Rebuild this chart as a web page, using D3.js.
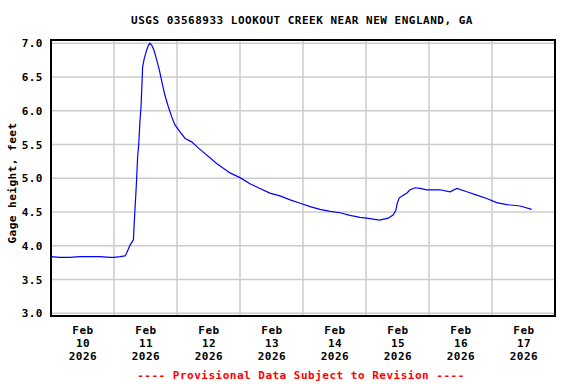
<!DOCTYPE html>
<html>
<head>
<meta charset="utf-8">
<title>USGS 03568933 Lookout Creek</title>
<script src="https://cdn.jsdelivr.net/npm/d3@7"></script>
<style>
  body { margin: 0; background: #fff; }
  text { font-family: "DejaVu Sans Mono", "Liberation Mono", monospace; font-weight: bold; font-size: 11px; letter-spacing: 0.5px; }
</style>
</head>
<body>
<svg id="chart"></svg>
<script>
// hours since Feb 10 2026 00:00 and gage height in feet
var hours = [0, 3.4, 7.2, 11, 14.9, 18.7, 22.5, 24, 26.3, 28.2, 28.8, 30.1, 31.4, 31.7, 32.3, 32.6, 33, 33.4,
  33.9, 34.3, 34.6, 34.9, 35.5, 36.2, 37.1, 37.7, 38.4, 39.2, 40.3, 41.3, 42.4, 43.4, 44.7, 46, 47.2,
  49.1, 51.1, 53.6, 56.1, 63.1, 68.2, 72, 75.8, 79.6, 83.4, 87.2, 91.1, 94.9, 98.7, 102.5, 106.3,
  110.1, 113.9, 117.7, 120.3, 125.1, 128.5, 130.4, 131.4, 131.9, 132.7, 134.2, 135.5, 136.8, 138.7,
  140.6, 143.1, 148.2, 152, 154.6, 158.4, 162.2, 166, 169.8, 173.6, 178.7, 183.1];
var height_ft = [3.84, 3.83, 3.83, 3.84, 3.84, 3.84, 3.83, 3.83, 3.84, 3.85, 3.89, 4.01, 4.09, 4.34, 4.75, 4.97, 5.32, 5.49,
  5.86, 6.06, 6.35, 6.65, 6.77, 6.87, 6.97, 7.00, 6.97, 6.90, 6.75, 6.60, 6.40, 6.23, 6.06, 5.91, 5.79,
  5.69, 5.59, 5.54, 5.45, 5.22, 5.08, 5.01, 4.92, 4.85, 4.78, 4.74, 4.68, 4.63, 4.58, 4.54, 4.51,
  4.49, 4.45, 4.42, 4.41, 4.38, 4.41, 4.46, 4.53, 4.63, 4.71, 4.75, 4.78, 4.83, 4.86,
  4.85, 4.83, 4.83, 4.80, 4.85, 4.80, 4.75, 4.70, 4.64, 4.61, 4.59, 4.54];
var yTicks = [3.0, 3.5, 4.0, 4.5, 5.0, 5.5, 6.0, 6.5, 7.0];
var dayLabels = ['10', '11', '12', '13', '14', '15', '16', '17'];
var monthLabel = 'Feb', yearLabel = '2026';

var W = 576, H = 384;
var pL = 51, pR = 555, pT = 40, pB = 316;
var start = Date.UTC(2026, 1, 10);

var svg = d3.select('#chart').attr('width', W).attr('height', H);

var x = d3.scaleUtc()
  .domain([new Date(start), new Date(Date.UTC(2026, 1, 18))])
  .range([pL, pR]);
var y = d3.scaleLinear().domain([3, 7]).range([313.3, 43.3]);

var data = hours.map((h, i) => [new Date(start + h * 3600e3), height_ft[i]]);

// grid
svg.append('g').selectAll('line').data(yTicks).enter().append('line')
  .attr('x1', pL).attr('x2', pR)
  .attr('y1', d => y(d)).attr('y2', d => y(d))
  .attr('stroke', '#cccccc').attr('stroke-width', 1.5);
svg.append('g').selectAll('line').data(x.ticks(d3.utcDay.every(1))).enter().append('line')
  .attr('x1', d => x(d)).attr('x2', d => x(d))
  .attr('y1', pT).attr('y2', pB)
  .attr('stroke', '#cccccc').attr('stroke-width', 1.5);

// line
svg.append('path').datum(data)
  .attr('fill', 'none').attr('stroke', '#0000ff').attr('stroke-width', 1.2)
  .attr('d', d3.line().x(d => x(d[0])).y(d => y(d[1])));

// frame
svg.append('rect').attr('x', pL).attr('y', pT)
  .attr('width', pR - pL).attr('height', pB - pT)
  .attr('fill', 'none').attr('stroke', '#000').attr('stroke-width', 2);

// y axis
var yAxis = d3.axisLeft(y).tickValues(yTicks).tickFormat(d3.format('.1f')).tickSize(0).tickPadding(8);
var gy = svg.append('g').attr('transform', 'translate(' + pL + ',0)').call(yAxis);
gy.select('.domain').remove();
gy.selectAll('text').attr('font-family', null).attr('font-size', null).attr('fill', '#000');

// x axis labels (centred at noon)
var noons = dayLabels.map((d, i) => new Date(start + (i + 0.5) * 86400e3));
var xAxis = d3.axisBottom(x).tickValues(noons).tickSize(0).tickFormat('');
var gx = svg.append('g').attr('transform', 'translate(0,' + pB + ')').call(xAxis);
gx.select('.domain').remove();
gx.selectAll('.tick').each(function (d, i) {
  var t = d3.select(this).append('text').attr('text-anchor', 'middle').attr('fill', '#000');
  t.append('tspan').attr('x', 0).attr('y', 18).text(monthLabel);
  t.append('tspan').attr('x', 0).attr('y', 31).text(dayLabels[i]);
  t.append('tspan').attr('x', 0).attr('y', 44).text(yearLabel);
});

// titles
svg.append('text').attr('x', 302).attr('y', 24).attr('text-anchor', 'middle')
  .text('USGS 03568933 LOOKOUT CREEK NEAR NEW ENGLAND, GA');
svg.append('text').attr('transform', 'translate(16,183) rotate(-90)').attr('text-anchor', 'middle')
  .text('Gage height, feet');
svg.append('text').attr('x', 301).attr('y', 379).attr('text-anchor', 'middle').attr('fill', '#ff0000')
  .text('---- Provisional Data Subject to Revision ----');
</script>
</body>
</html>
